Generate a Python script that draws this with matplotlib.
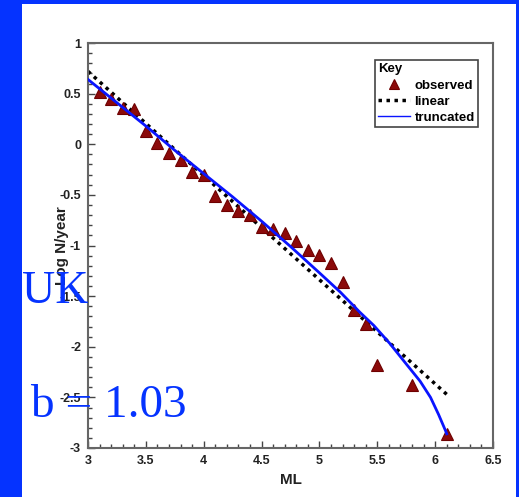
import matplotlib
matplotlib.use("Agg")
import matplotlib.pyplot as plt
from matplotlib.patches import Rectangle
from matplotlib.ticker import MultipleLocator

plt.rcParams['font.family'] = ['Liberation Sans', 'DejaVu Sans']
plt.rcParams['axes.unicode_minus'] = False

# observed annual rates (log N/year) vs magnitude ML
obs_ml = [3.1, 3.2, 3.3, 3.4, 3.5, 3.6, 3.7, 3.8, 3.9, 4.0, 4.1, 4.2, 4.3, 4.4,
          4.5, 4.6, 4.7, 4.8, 4.9, 5.0, 5.1, 5.2, 5.3, 5.4, 5.5, 5.8, 6.1]
obs_logn = [0.52, 0.45, 0.36, 0.35, 0.13, 0.01, -0.09, -0.16, -0.27, -0.30,
            -0.51, -0.60, -0.66, -0.70, -0.82, -0.84, -0.88, -0.96, -1.04,
            -1.09, -1.175, -1.36, -1.64, -1.78, -2.18, -2.38, -2.86]

# linear fit (b = 1.03)
lin_ml = [3.0, 6.1]
lin_logn = [0.72, -2.47]

# truncated curve
trunc_ml = [3.0, 3.25, 3.5, 3.75, 4.0, 4.25, 4.5, 4.75, 5.0, 5.18, 5.35,
            5.47, 5.61, 5.75, 5.87, 5.96, 6.03, 6.09, 6.1]
trunc_logn = [0.64, 0.41, 0.18, -0.06, -0.29, -0.52, -0.76, -1.01, -1.27,
              -1.46, -1.66, -1.79, -1.97, -2.17, -2.34, -2.50, -2.67, -2.83,
              -2.86]

xticks = [3, 3.5, 4, 4.5, 5, 5.5, 6, 6.5]
xticklabels = ['3', '3.5', '4', '4.5', '5', '5.5', '6', '6.5']
yticks = [1, 0.5, 0, -0.5, -1, -1.5, -2, -2.5, -3]
yticklabels = ['1', '0.5', '0', '-0.5', '-1', '-1.5', '-2', '-2.5', '-3']

blue_bg = '#0533ff'

fig = plt.figure(figsize=(5.19, 4.97), dpi=100)
fig.patch.set_facecolor(blue_bg)
fig.add_artist(Rectangle((22 / 519, 0), 494 / 519, 493 / 497,
                         transform=fig.transFigure, facecolor='white',
                         edgecolor='none', zorder=-10))

ax = fig.add_axes([88 / 519, 49 / 497, 405 / 519, 405 / 497])
ax.set_facecolor('white')

h_obs, = ax.plot(obs_ml, obs_logn, linestyle='none', marker='^', ms=9,
                 color='#8c0a0a', mec='#6e0000', mew=0.8, zorder=3)
h_lin, = ax.plot(lin_ml, lin_logn, color='black', lw=2.5,
                 dashes=(1, 1.3), zorder=2)
h_trunc, = ax.plot(trunc_ml, trunc_logn, color='#0a14ff', lw=2.0, zorder=4)

ax.set_xlim(3, 6.5)
ax.set_ylim(-3, 1)
ax.set_xticks(xticks)
ax.set_xticklabels(xticklabels)
ax.set_yticks(yticks)
ax.set_yticklabels(yticklabels)
ax.xaxis.set_minor_locator(MultipleLocator(0.1))
ax.yaxis.set_minor_locator(MultipleLocator(0.1))
ax.tick_params(which='both', direction='in', color='#444444', width=1,
               labelsize=9, pad=5, labelcolor='#222222')
ax.tick_params(which='major', length=5)
ax.tick_params(which='minor', length=3)
for lab in ax.get_xticklabels() + ax.get_yticklabels():
    lab.set_fontweight('bold')
for sp in ax.spines.values():
    sp.set_color('#666666')
    sp.set_linewidth(1.5)

ax.set_xlabel('ML', fontsize=11, fontweight='bold', color='#222222', labelpad=4)
ax.set_ylabel('Log N/year', fontsize=11, fontweight='bold', color='#222222')
ax.yaxis.set_label_coords(-0.048, 0.5)

leg = ax.legend([h_obs, h_lin, h_trunc], ['observed', 'linear', 'truncated'],
                title='Key', loc='upper right', bbox_to_anchor=(0.963, 0.958),
                alignment='left', fancybox=False, edgecolor='#444444',
                framealpha=1, prop=dict(weight='bold', size=9.5),
                title_fontproperties=dict(weight='bold', size=9.5),
                handlelength=2.4, handletextpad=0.35, borderpad=0.25,
                labelspacing=0.3, borderaxespad=0, markerscale=0.85)
leg.get_frame().set_linewidth(1.2)
leg.legend_handles[2].set_linewidth(1.0)

fig.text(22 / 519, (497 - 302.7) / 497, 'UK', family='Liberation Serif',
         fontsize=33, color=blue_bg, va='baseline', ha='left')
fig.text(30 / 519, (497 - 416.7) / 497, 'b = 1.03', family='Liberation Serif',
         fontsize=34, color=blue_bg, va='baseline', ha='left')

fig.savefig('out.png', dpi=100, facecolor=fig.get_facecolor())
